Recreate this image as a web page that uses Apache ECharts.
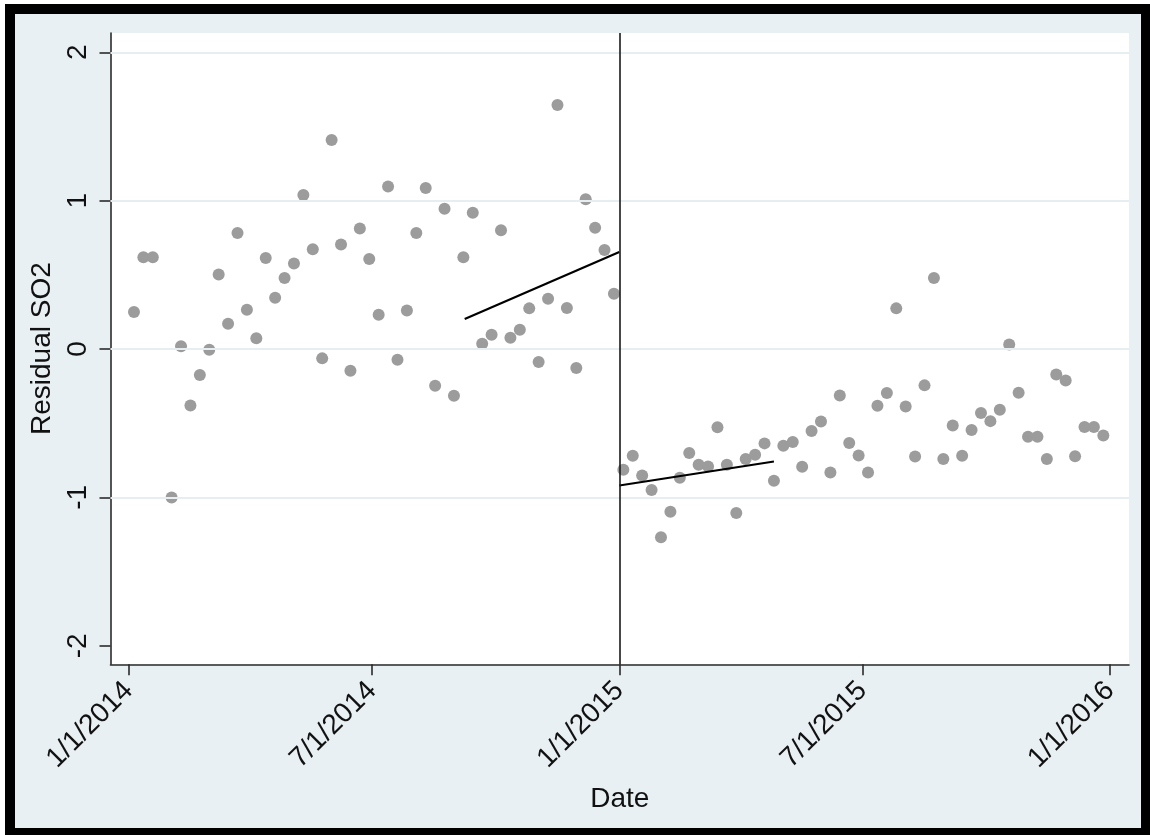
<!DOCTYPE html>
<html>
<head>
<meta charset="utf-8">
<script src="https://cdn.jsdelivr.net/npm/echarts@6/dist/echarts.min.js"></script>
<style>
  html, body { margin: 0; padding: 0; background: #ffffff; }
  #outer { position: absolute; left: 5px; top: 4px; width: 1145px; height: 831px; background: #000; }
  #inner { position: absolute; left: 15px; top: 14px; width: 1126px; height: 814px; background: #e8f0f3; }
  #chart { position: absolute; left: 0; top: 0; width: 1150px; height: 835px; }
</style>
</head>
<body>
<div id="outer"></div>
<div id="inner"></div>
<div id="chart"></div>
<script>
// ---------------- data ----------------
const baseDate = '2014-01-01';
const cutoffDate = '2015-01-01';

const dates2014 = ['2014-01-05','2014-01-12','2014-01-19','2014-02-02','2014-02-09','2014-02-16','2014-02-23',
  '2014-03-02','2014-03-09','2014-03-16','2014-03-23','2014-03-30','2014-04-06','2014-04-13','2014-04-20',
  '2014-04-27','2014-05-04','2014-05-11','2014-05-18','2014-05-25','2014-06-01','2014-06-08','2014-06-15',
  '2014-06-22','2014-06-29','2014-07-06','2014-07-13','2014-07-20','2014-07-27','2014-08-03','2014-08-10',
  '2014-08-17','2014-08-24','2014-08-31','2014-09-07','2014-09-14','2014-09-21','2014-09-28','2014-10-05',
  '2014-10-12','2014-10-19','2014-10-26','2014-11-02','2014-11-09','2014-11-16','2014-11-23','2014-11-30',
  '2014-12-07','2014-12-14','2014-12-21','2014-12-28'];
const resid2014 = [0.249, 0.618, 0.618, -1.0, 0.018, -0.380, -0.175, -0.005, 0.503, 0.171, 0.782, 0.265,
  0.072, 0.614, 0.346, 0.479, 0.577, 1.038, 0.672, -0.063, 1.409, 0.705, -0.146, 0.813, 0.607, 0.231,
  1.096, -0.072, 0.260, 0.782, 1.086, -0.247, 0.946, -0.315, 0.618, 0.919, 0.036, 0.096, 0.800, 0.076,
  0.130, 0.274, -0.088, 0.339, 1.645, 0.276, -0.128, 1.009, 0.818, 0.667, 0.373];

const dates2015 = ['2015-01-04','2015-01-11','2015-01-18','2015-01-25','2015-02-01','2015-02-08','2015-02-15',
  '2015-02-22','2015-03-01','2015-03-08','2015-03-15','2015-03-22','2015-03-29','2015-04-05','2015-04-12',
  '2015-04-19','2015-04-26','2015-05-03','2015-05-10','2015-05-17','2015-05-24','2015-05-31','2015-06-07',
  '2015-06-14','2015-06-21','2015-06-28','2015-07-05','2015-07-12','2015-07-19','2015-07-26','2015-08-02',
  '2015-08-09','2015-08-16','2015-08-23','2015-08-30','2015-09-06','2015-09-13','2015-09-20','2015-09-27',
  '2015-10-04','2015-10-11','2015-10-18','2015-10-25','2015-11-01','2015-11-08','2015-11-15','2015-11-22',
  '2015-11-29','2015-12-06','2015-12-13','2015-12-20','2015-12-27'];
const resid2015 = [-0.814, -0.719, -0.852, -0.951, -1.268, -1.097, -0.868, -0.701, -0.780, -0.791, -0.528,
  -0.780, -1.106, -0.742, -0.713, -0.636, -0.888, -0.652, -0.627, -0.794, -0.553, -0.488, -0.832, -0.313,
  -0.634, -0.717, -0.832, -0.382, -0.297, 0.274, -0.387, -0.724, -0.245, 0.479, -0.742, -0.515, -0.719,
  -0.546, -0.432, -0.486, -0.409, 0.031, -0.295, -0.591, -0.591, -0.742, -0.171, -0.212, -0.722, -0.526,
  -0.526, -0.583];

const fitPreDates = ['2014-09-08', '2015-01-01'];
const fitPreValues = [0.202, 0.654];
const fitPostDates = ['2015-01-01', '2015-04-26'];
const fitPostValues = [-0.920, -0.758];

const xTickDates = ['2014-01-01', '2014-07-01', '2015-01-01', '2015-07-01', '2016-01-01'];
const xTickLabels = ['1/1/2014', '7/1/2014', '1/1/2015', '7/1/2015', '1/1/2016'];
const yTicks = [-2, -1, 0, 1, 2];

// ---------------- helpers ----------------
function dayNum(s) {
  const p = s.split('-').map(Number);
  const b = baseDate.split('-').map(Number);
  return Math.round((Date.UTC(p[0], p[1] - 1, p[2]) - Date.UTC(b[0], b[1] - 1, b[2])) / 86400000);
}
const xTickDays = xTickDates.map(dayNum);
const points = dates2014.map((d, i) => [dayNum(d), resid2014[i]])
  .concat(dates2015.map((d, i) => [dayNum(d), resid2015[i]]));
const fitPre = fitPreDates.map((d, i) => [dayNum(d), fitPreValues[i]]);
const fitPost = fitPostDates.map((d, i) => [dayNum(d), fitPostValues[i]]);

const FONT = '"Liberation Sans", Arial, Helvetica, sans-serif';
const axisColor = '#2a2a2a';
const gridColor = '#e6eef1';

const chart = echarts.init(document.getElementById('chart'), null, { renderer: 'canvas' });
chart.setOption({
  backgroundColor: 'transparent',
  animation: false,
  grid: {
    left: 110.5, top: 33, width: 1018.5, height: 631.3,
    show: true, backgroundColor: '#ffffff', borderWidth: 0
  },
  xAxis: {
    type: 'value',
    min: -13.46, max: 744.1,
    name: 'Date', nameLocation: 'middle', nameGap: 121,
    nameTextStyle: { fontFamily: FONT, fontSize: 28, color: '#111' },
    axisLine: { show: true, onZero: false, lineStyle: { color: axisColor, width: 1.6 } },
    axisTick: { show: true, length: 11, customValues: xTickDays, lineStyle: { color: axisColor, width: 1.6 } },
    axisLabel: {
      customValues: xTickDays, rotate: 45, margin: 22,
      fontFamily: FONT, fontSize: 28, color: '#111',
      formatter: function (v) { const i = xTickDays.indexOf(Math.round(v)); return i >= 0 ? xTickLabels[i] : ''; }
    },
    splitLine: { show: false }
  },
  yAxis: {
    type: 'value',
    min: -2.125, max: 2.13,
    name: 'Residual SO2', nameLocation: 'middle', nameGap: 47, nameRotate: 90,
    nameTextStyle: { fontFamily: FONT, fontSize: 28, color: '#111' },
    axisLine: { show: true, onZero: false, lineStyle: { color: axisColor, width: 1.6 } },
    axisTick: { show: true, length: 11, customValues: yTicks, lineStyle: { color: axisColor, width: 1.6 } },
    axisLabel: {
      customValues: yTicks, rotate: 90, margin: 18,
      fontFamily: FONT, fontSize: 28, color: '#111',
      formatter: function (v) { return String(v); }
    },
    splitLine: { show: false }
  },
  series: [
    {
      name: 'grid', type: 'line', data: [], z: 1, silent: true,
      markLine: {
        silent: true, symbol: ['none', 'none'], label: { show: false },
        lineStyle: { color: gridColor, width: 2, type: 'solid' },
        data: yTicks.filter(v => v !== -2).map(v => ({ yAxis: v }))
      }
    },
    {
      name: 'Residual SO2', type: 'scatter', data: points, z: 3,
      symbol: 'circle', symbolSize: 12,
      itemStyle: { color: '#9c9c9c', opacity: 1 }
    },
    {
      name: 'fit pre', type: 'line', data: fitPre, z: 4, showSymbol: false, symbol: 'none',
      lineStyle: { color: '#000', width: 2.2 },
      markLine: {
        silent: true, symbol: ['none', 'none'], label: { show: false },
        lineStyle: { color: '#1a1a1a', width: 1.6, type: 'solid' },
        data: [{ xAxis: dayNum(cutoffDate) }]
      }
    },
    {
      name: 'fit post', type: 'line', data: fitPost, z: 4, showSymbol: false, symbol: 'none',
      lineStyle: { color: '#000', width: 2.2 }
    }
  ]
});
</script>
</body>
</html>
